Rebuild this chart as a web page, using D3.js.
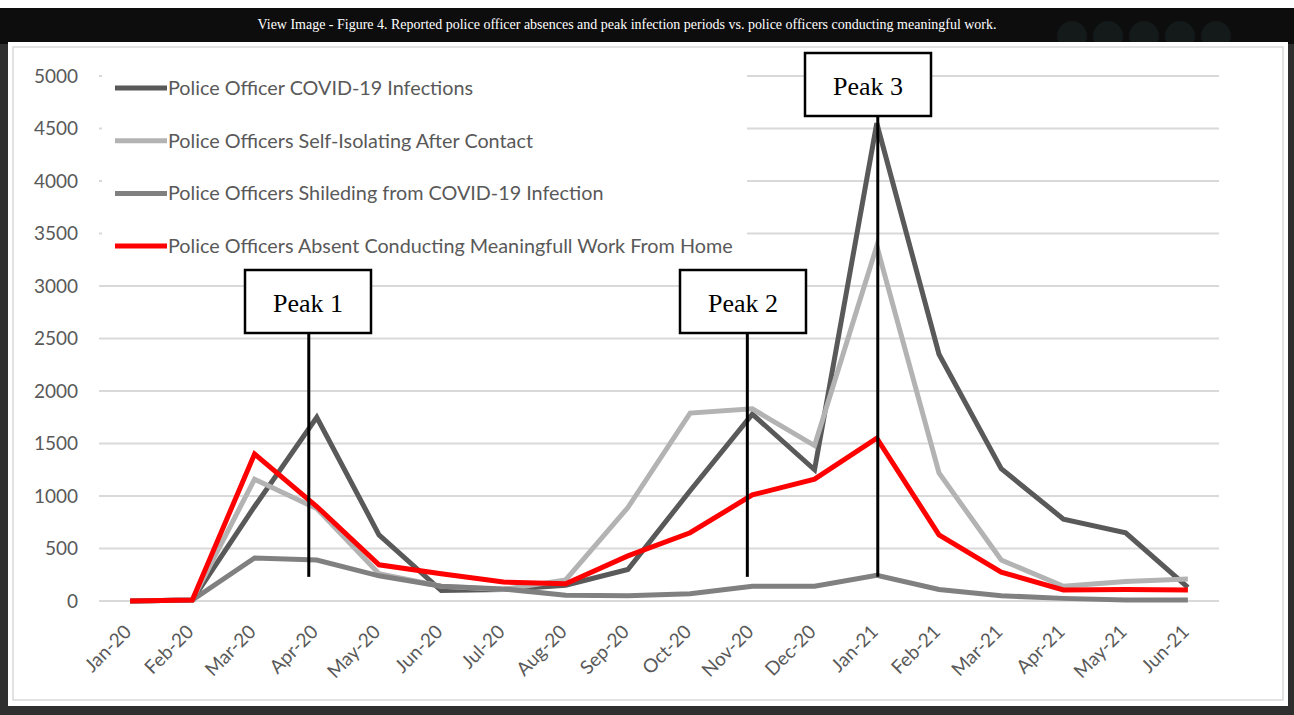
<!DOCTYPE html>
<html>
<head>
<meta charset="utf-8">
<script src="https://d3js.org/d3.v7.min.js"></script>
<style>
  body { margin: 0; background: #333; }
  svg { display: block; }
</style>
</head>
<body>
<svg width="1294" height="715"></svg>
<script>

var months = ["Jan-20", "Feb-20", "Mar-20", "Apr-20", "May-20", "Jun-20", "Jul-20", "Aug-20", "Sep-20",
              "Oct-20", "Nov-20", "Dec-20", "Jan-21", "Feb-21", "Mar-21", "Apr-21", "May-21", "Jun-21"];

var infections    = [0, 10, 900, 1750, 630, 100, 110, 150, 300, 1050, 1780, 1250, 4550, 2350, 1260, 780, 650, 130];
var selfIsolating = [0, 10, 1160, 880, 260, 140, 110, 200, 890, 1790, 1830, 1480, 3380, 1220, 390, 140, 185, 210];
var shielding     = [0, 10, 410, 390, 240, 140, 115, 55, 50, 70, 140, 140, 245, 110, 50, 25, 10, 10];
var absentWfh     = [0, 10, 1400, 900, 345, 260, 180, 165, 430, 650, 1010, 1160, 1550, 630, 275, 105, 110, 105];

var seriesNames = ["Police Officer COVID-19 Infections",
                   "Police Officers Self-Isolating After Contact",
                   "Police Officers Shileding from COVID-19 Infection",
                   "Police Officers Absent Conducting Meaningfull Work From Home"];

var yTicks = [0, 500, 1000, 1500, 2000, 2500, 3000, 3500, 4000, 4500, 5000];

var peakLabels = ["Peak 1", "Peak 2", "Peak 3"];
var peakMonths = ["Apr-20", "Nov-20", "Jan-21"];

var titleText = "View Image - Figure 4. Reported police officer absences and peak infection periods vs. police officers conducting meaningful work.";

var svg = d3.select("svg");

// page background bits
svg.append("rect").attr("x", 0).attr("y", 0).attr("width", 1294).attr("height", 715).attr("fill", "#2f2f2f");
svg.append("rect").attr("x", 0).attr("y", 0).attr("width", 1294).attr("height", 8).attr("fill", "#ffffff");
svg.append("rect").attr("x", 0).attr("y", 8).attr("width", 1294).attr("height", 36).attr("fill", "#0d0d0d");

// faint icons behind the panel, top right
svg.append("g").selectAll("circle")
  .data([0, 1, 2, 3, 4])
  .enter().append("circle")
    .attr("cx", function(d) { return 1072 + d * 36; })
    .attr("cy", 36)
    .attr("r", 15)
    .attr("fill", "#131a19");

svg.append("text")
    .attr("x", 627)
    .attr("y", 29)
    .attr("text-anchor", "middle")
    .attr("fill", "#ffffff")
    .attr("font-family", "Liberation Serif, serif")
    .attr("font-size", 14)
    .attr("textLength", 739)
    .attr("lengthAdjust", "spacingAndGlyphs")
    .text(titleText);

// white panel with inner border
svg.append("rect").attr("x", 8).attr("y", 42).attr("width", 1280).attr("height", 664).attr("fill", "#ffffff");
svg.append("rect").attr("x", 13).attr("y", 47).attr("width", 1270).attr("height", 653)
    .attr("fill", "none").attr("stroke", "#d9d9d9").attr("stroke-width", 1.5);

var x = d3.scalePoint()
    .domain(months)
    .range([99, 1219])
    .padding(0.5);

var y = d3.scaleLinear()
    .domain([0, 5000])
    .range([601, 76]);

// gridlines
svg.append("g")
  .selectAll("line")
  .data(yTicks)
  .enter().append("line")
    .attr("x1", 99)
    .attr("x2", 1219)
    .attr("y1", function(d) { return y(d); })
    .attr("y2", function(d) { return y(d); })
    .attr("stroke", "#d9d9d9")
    .attr("stroke-width", 2);

// y axis labels
var yAxis = svg.append("g")
    .attr("transform", "translate(99,0)")
    .call(d3.axisLeft(y).tickValues(yTicks).tickSize(0).tickPadding(21).tickFormat(d3.format("d")));
yAxis.select(".domain").remove();
yAxis.selectAll("text")
    .attr("fill", "#595959")
    .attr("font-family", "Lato, sans-serif")
    .attr("font-size", 19);

// x axis labels
var xAxis = svg.append("g")
    .attr("transform", "translate(0,601)")
    .call(d3.axisBottom(x).tickSize(0));
xAxis.select(".domain").remove();
xAxis.selectAll("text")
    .attr("fill", "#595959")
    .attr("font-family", "Lato, sans-serif")
    .attr("font-size", 19)
    .attr("text-anchor", "end")
    .attr("dy", null)
    .attr("y", 0)
    .attr("transform", "translate(2,32) rotate(-45)");

// legend box (hides gridlines underneath)
svg.append("rect").attr("x", 102).attr("y", 64).attr("width", 645).attr("height", 198).attr("fill", "#ffffff");

var colors = ["#595959", "#b3b3b3", "#808080", "#ff0000"];
var allSeries = [infections, selfIsolating, shielding, absentWfh];

var line = d3.line()
    .x(function(d, i) { return x(months[i]); })
    .y(function(d) { return y(d); });

svg.append("g")
  .selectAll("path")
  .data(allSeries)
  .enter().append("path")
    .attr("d", line)
    .attr("fill", "none")
    .attr("stroke", function(d, i) { return colors[i]; })
    .attr("stroke-width", 5)
    .attr("stroke-linejoin", "miter");

// legend
var legend = svg.append("g")
  .selectAll("g")
  .data(seriesNames)
  .enter().append("g")
    .attr("transform", function(d, i) { return "translate(115," + (88 + i * 52.7) + ")"; });

legend.append("line")
    .attr("x1", 0).attr("x2", 52)
    .attr("y1", 0).attr("y2", 0)
    .attr("stroke", function(d, i) { return colors[i]; })
    .attr("stroke-width", 5);

legend.append("text")
    .attr("x", 53)
    .attr("y", 0)
    .attr("dy", "0.35em")
    .attr("fill", "#595959")
    .attr("font-family", "Lato, sans-serif")
    .attr("font-size", 19.8)
    .text(function(d) { return d; });

// peak annotations
var peakBoxes = [{cx: 308, top: 270}, {cx: 743, top: 270}, {cx: 868, top: 53}];
var peakShift = [-8, -5, 1];

var peaks = svg.append("g")
  .selectAll("g")
  .data(peakLabels)
  .enter().append("g");

peaks.append("line")
    .attr("x1", function(d, i) { return x(peakMonths[i]) + peakShift[i]; })
    .attr("x2", function(d, i) { return x(peakMonths[i]) + peakShift[i]; })
    .attr("y1", function(d, i) { return peakBoxes[i].top + 64; })
    .attr("y2", y(230))
    .attr("stroke", "#000")
    .attr("stroke-width", 3);

peaks.append("rect")
    .attr("x", function(d, i) { return peakBoxes[i].cx - 63; })
    .attr("y", function(d, i) { return peakBoxes[i].top; })
    .attr("width", 126)
    .attr("height", 63)
    .attr("fill", "#fff")
    .attr("stroke", "#000")
    .attr("stroke-width", 2.5);

peaks.append("text")
    .attr("x", function(d, i) { return peakBoxes[i].cx; })
    .attr("y", function(d, i) { return peakBoxes[i].top + 42; })
    .attr("text-anchor", "middle")
    .attr("fill", "#000")
    .attr("font-family", "Liberation Serif, serif")
    .attr("font-size", 26)
    .text(function(d) { return d; });

</script>
</body>
</html>
